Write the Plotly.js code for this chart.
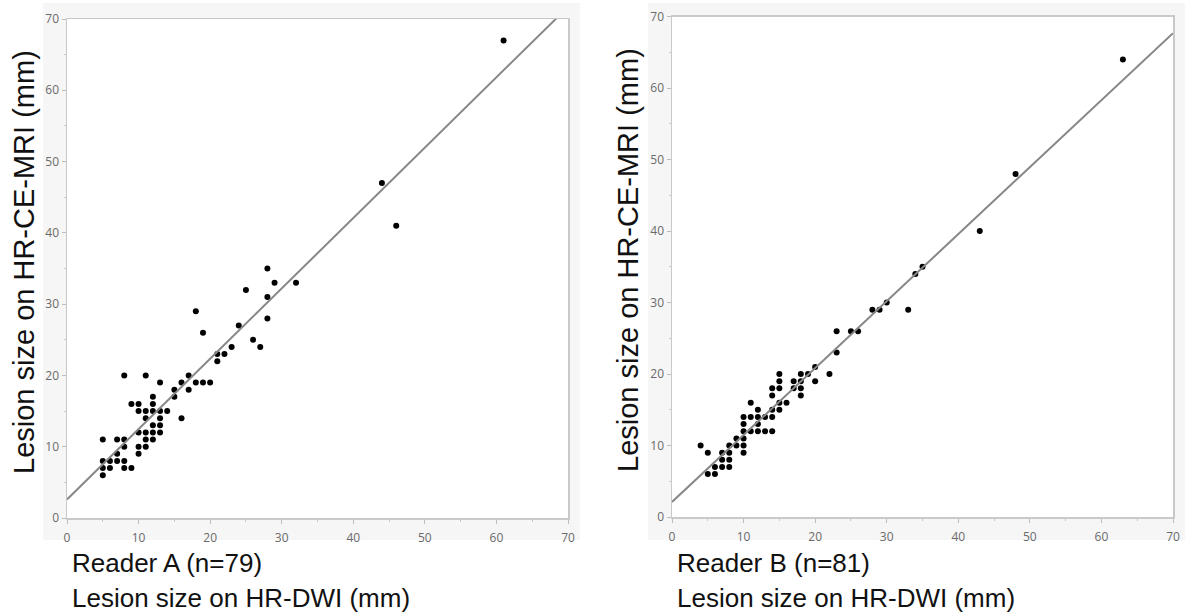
<!DOCTYPE html>
<html>
<head>
<meta charset="utf-8">
<script src="https://cdn.plot.ly/plotly-3.0.1.min.js"></script>
<style>
html,body{margin:0;padding:0;background:#fff;}
#chart{width:1192px;height:615px;}
</style>
</head>
<body>
<div id="chart"></div>
<script>
// Reader A: lesion size on HR-DWI (x) vs HR-CE-MRI (y), mm
const readerA_dwi = [5,5,6,8,9,5,6,7,8,7,10,8,10,11,5,7,8,11,12,10,11,12,13,12,13,11,13,16,10,11,12,13,14,9,10,12,12,15,15,17,13,16,18,19,20,8,11,17,21,21,22,23,27,26,19,24,18,28,28,25,29,32,28,44,46,61];
const readerA_mri = [6,7,7,7,7,8,8,8,8,9,9,10,10,10,11,11,11,11,11,12,12,12,12,13,13,14,14,14,15,15,15,15,15,16,16,16,17,17,18,18,19,19,19,19,19,20,20,20,22,23,23,24,24,25,26,27,29,28,31,32,33,33,35,47,41,67];
// Reader B
const readerB_dwi = [4,5,5,6,6,7,7,7,8,8,8,8,9,9,10,10,10,10,10,10,11,11,11,12,12,12,12,13,13,14,14,14,14,14,15,15,15,15,15,16,17,17,18,18,18,18,19,20,20,22,23,23,25,26,28,29,30,33,34,35,43,48,63];
const readerB_mri = [10,9,6,6,7,7,8,9,7,8,9,10,10,11,11,10,9,12,13,14,16,14,12,15,14,13,12,14,12,18,17,15,14,12,20,19,18,16,15,16,19,18,20,19,18,17,20,21,19,20,23,26,26,26,29,29,30,29,34,35,40,48,64];
// Fitted lines: [intercept, slope]
const fitA = [2.6, 0.987];
const fitB = [2.1, 0.937];
const fitRange = [0, 70];

const titleX = "Lesion size on HR-DWI (mm)";
const titleY = "Lesion size on HR-CE-MRI (mm)";
const readerLabels = ["Reader A (n=79)", "Reader B (n=81)"];

function fitTrace(fit, xa, ya){
  return {x: fitRange, y: fitRange.map(v => fit[0] + fit[1]*v), xaxis: xa, yaxis: ya,
    mode: 'lines', line: {color: '#878787', width: 2}, hoverinfo: 'skip', showlegend: false};
}
function ptTrace(xs, ys, xa, ya){
  return {x: xs, y: ys, xaxis: xa, yaxis: ya, mode: 'markers', type: 'scatter',
    marker: {color: '#000', size: 6}, showlegend: false};
}

const traces = [
  ptTrace(readerA_dwi, readerA_mri, 'x', 'y'),
  fitTrace(fitA, 'x', 'y'),
  ptTrace(readerB_dwi, readerB_mri, 'x2', 'y2'),
  fitTrace(fitB, 'x2', 'y2')
];

const W = 1192, H = 615;
const tickFont = {family: 'Open Sans, DejaVu Sans, sans-serif', size: 12, color: '#6a6a6a'};
function axis(domain, anchor){
  return {domain: domain, anchor: anchor, range: [0, 70], dtick: 10, tick0: 0,
    showgrid: false, zeroline: false, showline: true, mirror: true,
    linecolor: '#c9c9c9', linewidth: 1.5, ticks: 'outside', ticklen: 4, tickwidth: 1,
    tickcolor: '#bdbdbd', tickfont: tickFont, fixedrange: true,
    minor: {dtick: 5, tick0: 0, ticks: 'outside', ticklen: 2, tickcolor: '#c8c8c8', showgrid: false}};
}
const px = v => v / W;
const py = v => (H - v) / H;

const titleFontX = {family: 'Liberation Sans, Arial, sans-serif', size: 26, color: '#111'};
const titleFontY = {family: 'Liberation Sans, Arial, sans-serif', size: 29, color: '#111'};

const layout = {
  width: W, height: H,
  margin: {l: 0, r: 0, t: 0, b: 0, pad: 0},
  paper_bgcolor: '#fff', plot_bgcolor: '#fff',
  showlegend: false,
  xaxis: Object.assign(axis([px(67), px(568)], 'y'), {ticklabelstandoff: 4}),
  yaxis: axis([py(518), py(19)], 'x'),
  xaxis2: Object.assign(axis([px(672), px(1173)], 'y2'), {ticklabelstandoff: 4}),
  yaxis2: axis([py(517), py(16.7)], 'x2'),
  shapes: [
    {type: 'rect', xref: 'paper', yref: 'paper', x0: px(43), x1: px(580), y0: py(540), y1: py(3),
      fillcolor: '#f6f6f6', line: {width: 0}, layer: 'below'},
    {type: 'rect', xref: 'paper', yref: 'paper', x0: px(648), x1: px(1185), y0: py(540), y1: py(3),
      fillcolor: '#f6f6f6', line: {width: 0}, layer: 'below'},
    {type: 'rect', xref: 'x', yref: 'y', x0: 0, x1: 70, y0: 0, y1: 70,
      fillcolor: '#fff', line: {width: 0}, layer: 'below'},
    {type: 'rect', xref: 'x2', yref: 'y2', x0: 0, x1: 70, y0: 0, y1: 70,
      fillcolor: '#fff', line: {width: 0}, layer: 'below'}
  ],
  annotations: [
    {text: titleY, textangle: -90, xref: 'paper', yref: 'paper', x: px(24), y: py(262),
      xanchor: 'center', yanchor: 'middle', showarrow: false, font: titleFontY},
    {text: titleY, textangle: -90, xref: 'paper', yref: 'paper', x: px(628), y: py(260),
      xanchor: 'center', yanchor: 'middle', showarrow: false, font: titleFontY},
    {text: readerLabels[0], xref: 'paper', yref: 'paper', x: px(70), y: py(563),
      xanchor: 'left', yanchor: 'middle', showarrow: false, font: titleFontX},
    {text: titleX, xref: 'paper', yref: 'paper', x: px(70), y: py(598),
      xanchor: 'left', yanchor: 'middle', showarrow: false, font: titleFontX},
    {text: readerLabels[1], xref: 'paper', yref: 'paper', x: px(675), y: py(563),
      xanchor: 'left', yanchor: 'middle', showarrow: false, font: titleFontX},
    {text: titleX, xref: 'paper', yref: 'paper', x: px(675), y: py(598),
      xanchor: 'left', yanchor: 'middle', showarrow: false, font: titleFontX}
  ]
};

Plotly.newPlot('chart', traces, layout, {staticPlot: true, displayModeBar: false});
</script>
</body>
</html>
